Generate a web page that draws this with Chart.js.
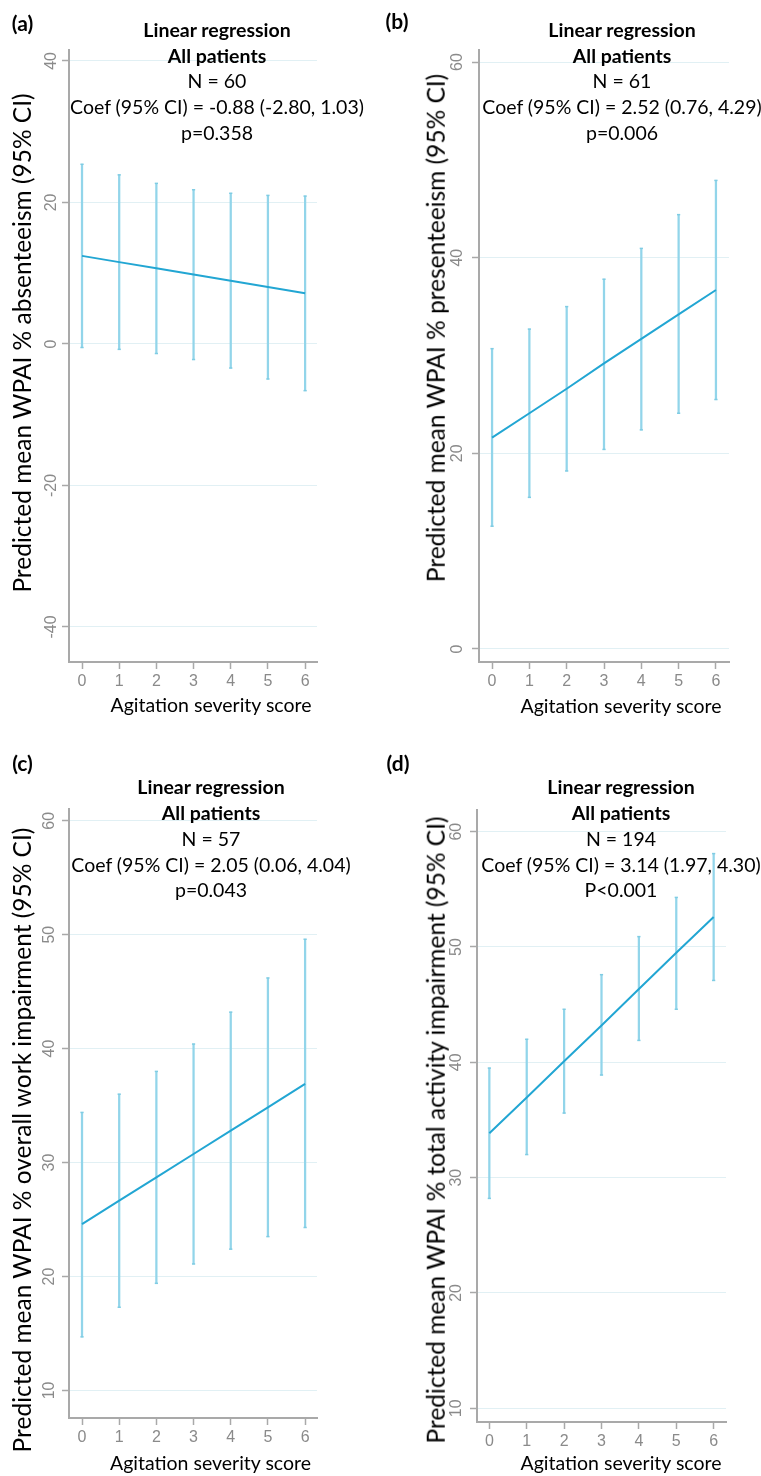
<!DOCTYPE html>
<html><head><meta charset="utf-8">
<script src="https://cdn.jsdelivr.net/npm/chart.js@4.4.0/dist/chart.umd.min.js"></script>
<style>
html,body{margin:0;padding:0;background:#fff;}
#wrap{position:relative;width:761px;height:1476px;overflow:hidden;font-family:Lato,"Open Sans",sans-serif;color:#000;}
canvas{position:absolute;}
.t{position:absolute;transform:translate(-50%,-50%);white-space:nowrap;font-size:19.5px;line-height:1;}
.b{font-weight:bold;}
.lab{position:absolute;transform:translate(-50%,-50%);white-space:nowrap;font-size:21px;font-weight:bold;line-height:1;}
.yt{position:absolute;transform:translate(-50%,-50%) rotate(-90deg);white-space:nowrap;font-size:24.5px;line-height:1;}
.xt{position:absolute;transform:translate(-50%,-50%);white-space:nowrap;font-size:19.5px;line-height:1;}
</style></head><body><div id="wrap"></div>
<script>
// ---- data ----
const scores = [0, 1, 2, 3, 4, 5, 6];

const absMean = [12.45, 11.57, 10.69, 9.81, 8.93, 8.05, 7.17];
const absLow  = [-0.5, -0.76, -1.35, -2.2, -3.4, -4.95, -6.6];
const absHigh = [25.4, 23.9, 22.7, 21.8, 21.3, 21.0, 20.9];

const preMean = [21.6, 24.1, 26.6, 29.2, 31.7, 34.2, 36.7];
const preLow  = [12.55, 15.5, 18.2, 20.4, 22.4, 24.1, 25.5];
const preHigh = [30.7, 32.7, 35.0, 37.8, 40.95, 44.4, 47.9];

const owiMean = [24.6, 26.65, 28.7, 30.75, 32.8, 34.85, 36.9];
const owiLow  = [14.7, 17.3, 19.4, 21.1, 22.4, 23.5, 24.3];
const owiHigh = [34.4, 36.0, 38.0, 40.4, 43.2, 46.2, 49.6];

const taiMean = [33.85, 36.95, 40.1, 43.2, 46.35, 49.5, 52.6];
const taiLow  = [28.2, 32.0, 35.6, 38.9, 41.9, 44.6, 47.1];
const taiHigh = [39.5, 42.0, 44.6, 47.6, 50.9, 54.3, 58.1];

const absTicks = [-40, -20, 0, 20, 40];
const preTicks = [0, 20, 40, 60];
const owiTicks = [10, 20, 30, 40, 50, 60];
const taiTicks = [10, 20, 30, 40, 50, 60];

const xTitle = "Agitation severity score";
const absYTitle = "Predicted mean WPAI % absenteeism (95% CI)";
const preYTitle = "Predicted mean WPAI % presenteeism (95% CI)";
const owiYTitle = "Predicted mean WPAI % overall work impairment (95% CI)";
const taiYTitle = "Predicted mean WPAI % total activity impairment (95% CI)";

const absNotes = ["Linear regression", "All patients", "N = 60", "Coef (95% CI) = -0.88 (-2.80, 1.03)", "p=0.358"];
const preNotes = ["Linear regression", "All patients", "N = 61", "Coef (95% CI) = 2.52 (0.76, 4.29)", "p=0.006"];
const owiNotes = ["Linear regression", "All patients", "N = 57", "Coef (95% CI) = 2.05 (0.06, 4.04)", "p=0.043"];
const taiNotes = ["Linear regression", "All patients", "N = 194", "Coef (95% CI) = 3.14 (1.97, 4.30)", "P<0.001"];

// ---- styles ----
const AXIS = '#a9a9a9', GRID = '#e1f0f4', TICKTXT = '#8a8a8a';
const ERR = '#92d5ea', CAP = '#7fcce3', LINE = '#22a6d3';

const wrap = document.getElementById('wrap');

function addText(cls, txt, x, y) {
  const d = document.createElement('div');
  d.className = cls; d.textContent = txt;
  d.style.left = x + 'px'; d.style.top = y + 'px';
  wrap.appendChild(d);
}

function panel(p) {
  const c = document.createElement('canvas');
  c.width = p.w; c.height = p.h;
  c.style.left = p.left + 'px'; c.style.top = p.top + 'px';
  c.style.width = p.w + 'px'; c.style.height = p.h + 'px';
  wrap.appendChild(c);
  const caps = [];
  scores.forEach((x, i) => { caps.push({x, y: p.low[i]}); caps.push({x, y: p.high[i]}); });
  new Chart(c, {
    type: 'line',
    data: {
      datasets: [
        { type: 'line', data: scores.map((x, i) => ({x, y: p.mean[i]})), borderColor: LINE, borderWidth: 2,
          pointRadius: 0, tension: 0, fill: false, order: 0 },
        { type: 'scatter', data: caps, pointStyle: 'line', pointRadius: 1.6, borderColor: CAP, borderWidth: 1.5,
          backgroundColor: CAP, showLine: false, order: 1 },
        { type: 'bar', data: scores.map((x, i) => ({x, y: [p.low[i], p.high[i]]})), backgroundColor: ERR,
          borderWidth: 0, barThickness: 1.6, order: 2 }
      ]
    },
    options: {
      responsive: false, animation: false, devicePixelRatio: 1, events: [],
      layout: { padding: { left: 0, top: p.padTop, right: p.padRight, bottom: 0 } },
      plugins: { legend: { display: false }, tooltip: { enabled: false }, title: { display: false } },
      scales: {
        x: {
          type: 'linear', position: 'bottom', min: p.xmin, max: p.xmax, offset: false,
          afterBuildTicks: s => { s.ticks = scores.map(v => ({value: v})); },
          afterFit: s => { s.height = p.xH; },
          grid: { offset: false, drawOnChartArea: false, drawTicks: true, tickLength: 7, tickColor: AXIS, tickWidth: 1.5 },
          border: { display: true, color: AXIS, width: 2 },
          ticks: { color: TICKTXT, font: { family: 'Liberation Sans', size: 16 }, padding: 3, maxRotation: 0, autoSkip: false }
        },
        y: {
          type: 'linear', position: 'left', min: p.ymin, max: p.ymax, offset: false,
          afterBuildTicks: s => { s.ticks = p.ticks.map(v => ({value: v})); },
          afterFit: s => { s.width = p.yW; },
          grid: { offset: false, color: GRID, lineWidth: 1, drawTicks: true, tickLength: 7, tickColor: AXIS, tickWidth: 1.5 },
          border: { display: true, color: AXIS, width: 2 },
          ticks: { color: TICKTXT, font: { family: 'Liberation Sans', size: 16 }, padding: p.yPad,
                   minRotation: 90, maxRotation: 90, crossAlign: 'center', autoSkip: false }
        }
      }
    }
  });
  // annotations
  p.notes.forEach((t, i) => addText(i < 2 ? 't b' : 't', t, p.noteX, p.noteY[i]));
  addText('lab', p.label, p.labelX, p.labelY);
  addText('xt', xTitle, p.xtX, p.xtY);
  addText('yt', p.yTitle, p.ytX, p.ytY);
}

const topY = [29.5, 55.5, 81, 107, 132.5];
const botY = [787, 812.5, 838.5, 864.5, 890];

panel({ left: 0, top: 0, w: 380, h: 738, padTop: 50, padRight: 63, yW: 69, xH: 76, yPad: -1.5,
  xmin: -0.35, xmax: 6.32, ymin: -44.95, ymax: 41.55, ticks: absTicks,
  mean: absMean, low: absLow, high: absHigh, notes: absNotes, noteX: 217, noteY: topY,
  label: '(a)', labelX: 22.5, labelY: 21.5, xtX: 211, xtY: 705, ytX: 22, ytY: 343, yTitle: absYTitle });

panel({ left: 380, top: 0, w: 381, h: 738, padTop: 50, padRight: 32, yW: 99, xH: 76, yPad: 5.2,
  xmin: -0.35, xmax: 6.35, ymin: -1.33, ymax: 61.23, ticks: preTicks,
  mean: preMean, low: preLow, high: preHigh, notes: preNotes, noteX: 622, noteY: topY,
  label: '(b)', labelX: 397, labelY: 20, xtX: 621, xtY: 706, ytX: 436, ytY: 328, yTitle: preYTitle });

panel({ left: 0, top: 738, w: 380, h: 738, padTop: 71, padRight: 63, yW: 69, xH: 58, yPad: 3.2,
  xmin: -0.35, xmax: 6.32, ymin: 7.58, ymax: 61.03, ticks: owiTicks,
  mean: owiMean, low: owiLow, high: owiHigh, notes: owiNotes, noteX: 211, noteY: botY,
  label: '(c)', labelX: 22.5, labelY: 762, xtX: 210.5, xtY: 1463, ytX: 22, ytY: 1140, yTitle: owiYTitle });

panel({ left: 380, top: 738, w: 381, h: 738, padTop: 72, padRight: 35, yW: 97, xH: 54, yPad: 4.7,
  xmin: -0.33, xmax: 6.33, ymin: 8.81, ymax: 61.88, ticks: taiTicks,
  mean: taiMean, low: taiLow, high: taiHigh, notes: taiNotes, noteX: 621, noteY: botY,
  label: '(d)', labelX: 398, labelY: 762, xtX: 621, xtY: 1463, ytX: 436, ytY: 1130, yTitle: taiYTitle });
</script>
</body></html>
